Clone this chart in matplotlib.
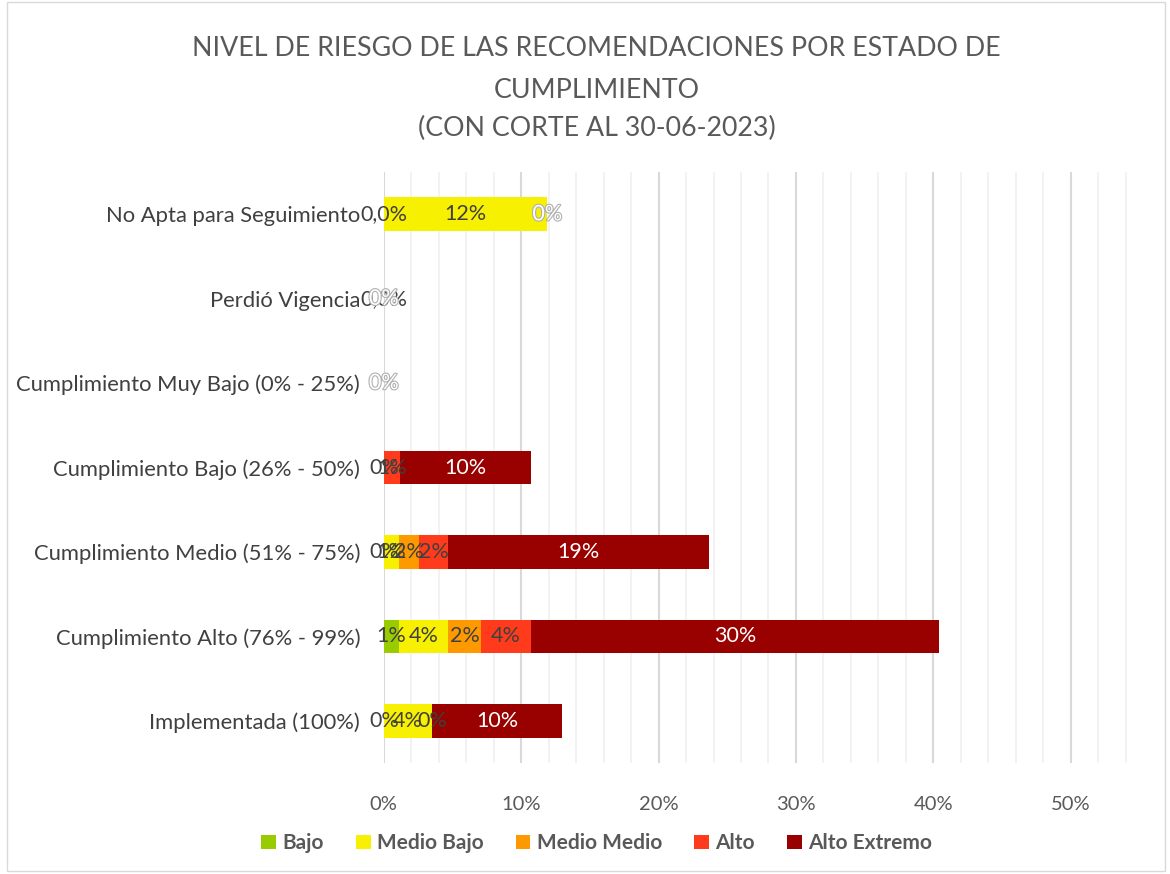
import numpy as np
import matplotlib
matplotlib.use("Agg")
import matplotlib.pyplot as plt
import matplotlib.patheffects as pe
from matplotlib.patches import Rectangle
from matplotlib.ticker import MultipleLocator, PercentFormatter

plt.rcParams['font.family'] = ['Lato', 'DejaVu Sans']

nan = np.nan
categories = ["Implementada (100%)", "Cumplimiento Alto (76% - 99%)",
              "Cumplimiento Medio (51% - 75%)", "Cumplimiento Bajo (26% - 50%)",
              "Cumplimiento Muy Bajo (0% - 25%)", "Perdió Vigencia",
              "No Apta para Seguimiento"]
series_names = ["Bajo", "Medio Bajo", "Medio Medio", "Alto", "Alto Extremo"]

bajo         = [0.0,   0.011, 0.0,   0.0,   nan, 0.0, 0.0]
medio_bajo   = [0.035, 0.036, 0.011, nan,   nan, nan, 0.119]
medio_medio  = [0.0,   0.024, 0.015, nan,   nan, nan, nan]
alto         = [nan,   0.036, 0.021, 0.012, nan, nan, nan]
alto_extremo = [0.095, 0.297, 0.190, 0.095, 0.0, 0.0, 0.0]

bajo_labels         = ["0%", "1%", "0%", "0%", None, "0,0%", "0,0%"]
medio_bajo_labels   = ["4%", "4%", "1%", None, None, None, "12%"]
medio_medio_labels  = ["0%", "2%", "2%", None, None, None, None]
alto_labels         = [None, "4%", "2%", "1%", None, None, None]
alto_extremo_labels = ["10%", "30%", "19%", "10%", "0%", "0%", "0%"]

colors = ["#99CC00", "#F7F000", "#FF9900", "#FF3B1C", "#990000"]
label_colors = ["#404040", "#404040", "#404040", "#404040", "white"]

values = [bajo, medio_bajo, medio_medio, alto, alto_extremo]
labels = [bajo_labels, medio_bajo_labels, medio_medio_labels, alto_labels, alto_extremo_labels]

fig = plt.figure(figsize=(11.7, 8.74), dpi=100)
ax = fig.add_axes([0.328, 0.127, 0.640, 0.676])

y = np.arange(len(categories))
left = np.zeros(len(categories))
for vals, labs, col, lcol, name in zip(values, labels, colors, label_colors, series_names):
    v = np.nan_to_num(np.array(vals, dtype=float))
    ax.barh(y, v, left=left, height=0.4, color=col, label=name, zorder=3)
    for i, (val, lab) in enumerate(zip(vals, labs)):
        if lab is None:
            continue
        cx = left[i] + v[i] / 2
        t = ax.text(cx, y[i], lab, ha='center', va='center', fontsize=15.5,
                    color=lcol, zorder=5)
        if lcol == 'white' and v[i] == 0:
            t.set_path_effects([pe.withStroke(linewidth=1.6, foreground='#b0b0b0')])
    left += v

ax.set_xlim(0, 0.545)
ax.set_ylim(-0.5, 6.5)
ax.set_yticks(y)
ax.set_yticklabels(categories, fontsize=15.8, color='#404040')
ax.xaxis.set_major_locator(MultipleLocator(0.10))
ax.xaxis.set_minor_locator(MultipleLocator(0.02))
ax.xaxis.set_major_formatter(PercentFormatter(1.0, decimals=0))
ax.tick_params(axis='x', which='both', length=0, labelsize=14.5, labelcolor='#595959', pad=24)
ax.tick_params(axis='y', length=0, pad=17)
ax.grid(axis='x', which='minor', color='#f0f0f0', linewidth=1.2, zorder=0)
ax.grid(axis='x', which='major', color='#d9d9d9', linewidth=1.5, zorder=1)
for s in ax.spines.values():
    s.set_visible(False)

title_color = '#595959'
fig.text(0.51, 1 - 48/874, "NIVEL DE RIESGO DE LAS RECOMENDACIONES POR ESTADO DE",
         ha='center', va='center', fontsize=19.3, color=title_color)
fig.text(0.51, 1 - 90/874, "CUMPLIMIENTO", ha='center', va='center',
         fontsize=19.3, color=title_color)
fig.text(0.51, 1 - 128/874, "(CON CORTE AL 30-06-2023)", ha='center', va='center',
         fontsize=19.3, color=title_color)

leg = fig.legend(loc='center', bbox_to_anchor=(0.51, 0.035), ncol=5, frameon=False,
                 prop={'size': 15, 'weight': 'bold'}, handlelength=0.7, handleheight=0.7,
                 handletextpad=0.3, columnspacing=1.55)
for t in leg.get_texts():
    t.set_color('#595959')

fig.patches.append(Rectangle((0.006, 0.004), 0.99, 0.994, transform=fig.transFigure,
                             fill=False, edgecolor='#d9d9d9', linewidth=1))

fig.savefig("out.png", dpi=100)
